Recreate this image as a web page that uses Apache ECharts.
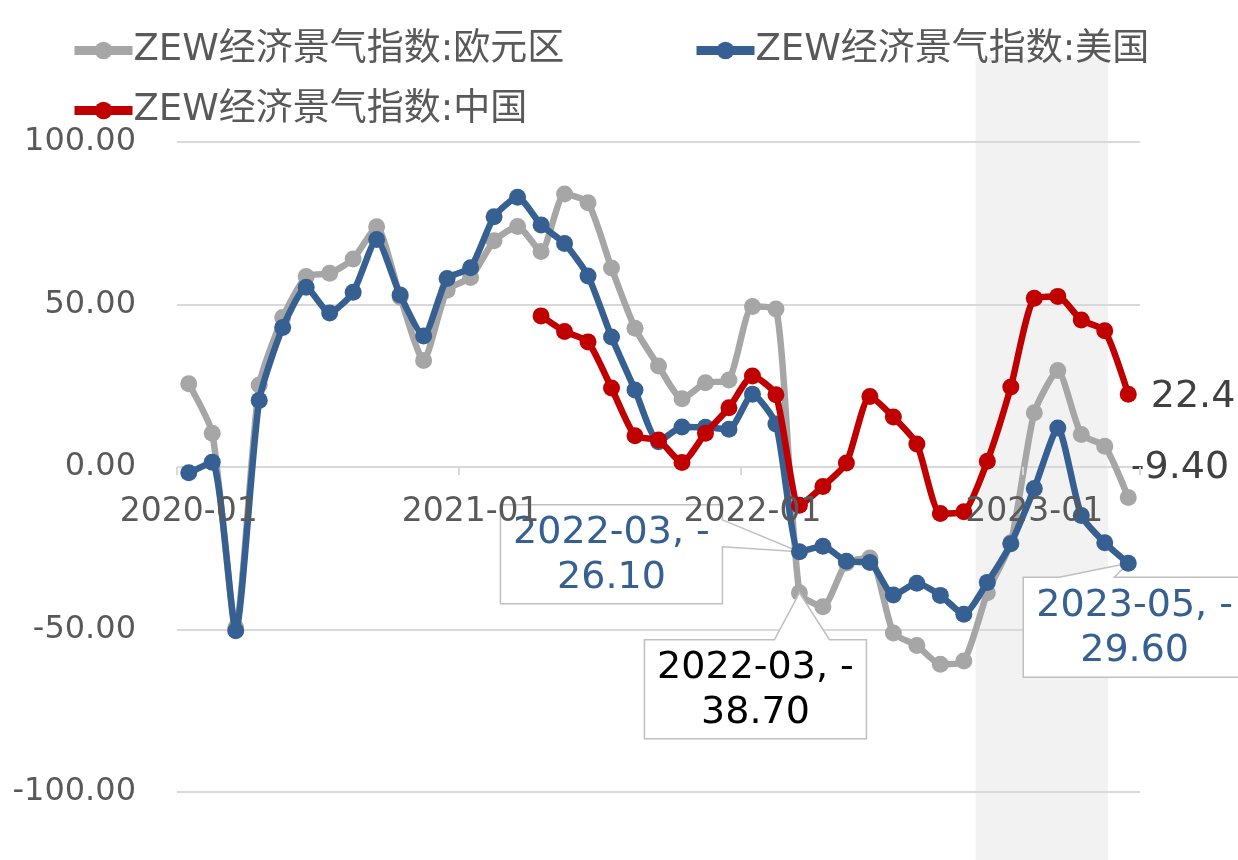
<!DOCTYPE html>
<html><head><meta charset="utf-8">
<script src="https://cdn.jsdelivr.net/npm/echarts@6/dist/echarts.min.js"></script>
<style>html,body{margin:0;padding:0;background:#fff}#c{width:1238px;height:860px}</style>
</head><body><div id="c"></div>
<script>
// ---------- data ----------
const categories = [
  '2020-01','2020-02','2020-03','2020-04','2020-05','2020-06','2020-07','2020-08','2020-09','2020-10','2020-11','2020-12',
  '2021-01','2021-02','2021-03','2021-04','2021-05','2021-06','2021-07','2021-08','2021-09','2021-10','2021-11','2021-12',
  '2022-01','2022-02','2022-03','2022-04','2022-05','2022-06','2022-07','2022-08','2022-09','2022-10','2022-11','2022-12',
  '2023-01','2023-02','2023-03','2023-04','2023-05'
];
const euroName = 'ZEW经济景气指数:欧元区';
const usName = 'ZEW经济景气指数:美国';
const cnName = 'ZEW经济景气指数:中国';
const euroValues = [25.6,10.4,-49.5,25.2,46.0,58.6,59.6,64.0,73.9,52.3,32.8,54.4,
  58.3,69.6,74.0,66.3,84.0,81.3,61.2,42.7,31.1,21.0,25.9,26.8,
  49.4,48.6,-38.7,-43.0,-29.5,-28.0,-51.1,-54.9,-60.7,-59.7,-38.7,-23.3,
  16.7,29.7,10.0,6.4,-9.4];
const usValues = [-1.8,1.5,-50.4,20.5,42.9,55.3,47.4,53.8,70.0,52.9,40.3,58.0,
  61.3,77.0,83.0,74.5,68.8,58.8,40.0,23.7,7.8,12.3,12.2,11.6,
  22.4,13.2,-26.1,-24.4,-29.0,-29.4,-39.4,-35.8,-39.5,-45.3,-35.5,-23.6,
  -6.6,12.0,-14.9,-23.3,-29.6];
const cnValues = [null,null,null,null,null,null,null,null,null,null,null,null,
  null,null,null,46.5,41.7,38.5,24.3,9.6,8.3,1.4,10.4,18.2,
  28.0,22.2,-11.8,-6.0,1.2,21.7,15.4,7.1,-14.3,-13.8,1.8,24.6,
  51.9,52.5,45.2,41.9,22.4];
const yTicks = [-100, -50, 0, 50, 100];
const shadeSpan = ['2022-11', '2023-04'];
// callouts: which point gets a boxed label
const callouts = [
  {series: usName, category: '2022-03'},
  {series: euroName, category: '2022-03'},
  {series: usName, category: '2023-05'}
];

// ---------- styles ----------
const FONT = "'DejaVu Sans', 'Noto Sans CJK SC', sans-serif";
const C_EURO = '#A6A6A6', C_US = '#366092', C_CN = '#C00000';
const TXT = '#595959', GRID = '#D9D9D9';

function buildData(values, endLabel) {
  return values.map((v, i) => {
    if (endLabel && i === values.length - 1) {
      return {value: v, label: Object.assign({show: true}, endLabel)};
    }
    return v;
  });
}
function lineSeries(name, values, color, endLabel, z) {
  return {
    name, type: 'line', data: buildData(values, endLabel), z,
    smooth: 0.2, symbol: 'circle', symbolSize: 17, showAllSymbol: true,
    connectNulls: false,
    lineStyle: {color, width: 6.5}, itemStyle: {color},
    emphasis: {disabled: true}, animation: false
  };
}

const series = [
  lineSeries(euroName, euroValues, C_EURO, {
    position: 'right', distance: 0, offset: [-6, -29],
    formatter: p => p.value.toFixed(2), fontSize: 38, color: '#404040', fontFamily: FONT
  }, 2),
  lineSeries(usName, usValues, C_US, null, 3),
  lineSeries(cnName, cnValues, C_CN, {
    position: 'right', distance: 0, offset: [14, 3],
    formatter: p => String(p.value), fontSize: 38, color: '#404040', fontFamily: FONT
  }, 4)
];

const legendCommon = {
  itemWidth: 58, itemHeight: 22, itemGap: 10, padding: 0,
  lineStyle: {width: 9},
  textStyle: {fontSize: 37, color: TXT, fontFamily: FONT, padding: [0, 0, 0, -4]},
  selectedMode: false
};

const chart = echarts.init(document.getElementById('c'));
chart.setOption({
  animation: false,
  backgroundColor: '#fff',
  textStyle: {fontFamily: FONT},
  legend: [
    Object.assign({data: [euroName], left: 70, top: 32}, legendCommon),
    Object.assign({data: [usName], left: 692, top: 32}, legendCommon),
    Object.assign({data: [cnName], left: 70, top: 92}, legendCommon)
  ],
  grid: {left: 177, right: 98, top: 142, bottom: 68, containLabel: false},
  xAxis: {
    type: 'category', data: categories, boundaryGap: true, z: 6,
    axisLine: {show: true, onZero: true, lineStyle: {color: 'rgba(0,0,0,0)'}},
    axisTick: {show: true, interval: 11, length: 8, lineStyle: {color: GRID, width: 2}},
    axisLabel: {interval: 11, fontSize: 33, color: TXT, margin: 29, fontFamily: FONT},
    splitLine: {show: false}
  },
  yAxis: {
    type: 'value', min: yTicks[0], max: yTicks[yTicks.length - 1], interval: 50,
    axisLine: {show: false}, axisTick: {show: false},
    axisLabel: {fontSize: 32, color: TXT, margin: 41, fontFamily: FONT, formatter: v => v.toFixed(2)},
    splitLine: {lineStyle: {color: GRID, width: 2}}
  },
  series
});

// ---------- decorations positioned through the library's scales ----------
function px(cat, val) { return chart.convertToPixel({xAxisIndex: 0, yAxisIndex: 0}, [cat, val]); }
// place the category axis on the zero line of the value axis
const zeroY = chart.convertToPixel({yAxisIndex: 0}, 0);
const bottomY = chart.convertToPixel({yAxisIndex: 0}, yTicks[0]);
chart.setOption({xAxis: {axisLine: {onZero: false}, offset: -(bottomY - zeroY)}});

const bw = px(categories[1], 0)[0] - px(categories[0], 0)[0];
const s0 = px(shadeSpan[0], 0)[0] - bw / 2;
const s1 = px(shadeSpan[1], 0)[0] + bw * 0.13;

const seriesValues = {}; seriesValues[euroName] = euroValues; seriesValues[usName] = usValues; seriesValues[cnName] = cnValues;
const seriesColor = {}; seriesColor[euroName] = '#000000'; seriesColor[usName] = C_US; seriesColor[cnName] = C_CN;

// callout geometry (offsets from the point, in px) – style only
const calloutGeom = [
  {box: [-299, -47, -77, 52], wedge: {side: 'right', a: -32, b: -5}},
  {box: [-155, 47, 67, 146], wedge: {side: 'top', a: -25, b: 30}},
  {box: [-105, 14, 125, 114], wedge: {side: 'top', a: -69, b: -14}}
];

const graphics = [{
  type: 'rect', z: -10, silent: true,
  shape: {x: s0, y: 58, width: s1 - s0, height: 860 - 58},
  style: {fill: '#F2F2F2'}
}];
callouts.forEach((c, k) => {
  const idx = categories.indexOf(c.category);
  const v = seriesValues[c.series][idx];
  const P = px(c.category, v);
  const g = calloutGeom[k];
  const L = P[0] + g.box[0], T = P[1] + g.box[1], R = P[0] + g.box[2], B = P[1] + g.box[3];
  let pts;
  if (g.wedge.side === 'right') {
    pts = [[L, T], [R, T], [R, P[1] + g.wedge.a], P, [R, P[1] + g.wedge.b], [R, B], [L, B]];
  } else {
    pts = [[L, T], [P[0] + g.wedge.a, T], P, [P[0] + g.wedge.b, T], [R, T], [R, B], [L, B]];
  }
  const label = c.category + ', ' + (v < 0 ? '-' : '') + '\n' + Math.abs(v).toFixed(2);
  graphics.push({
    type: 'polygon', z: 3, silent: true,
    shape: {points: pts},
    style: {fill: '#fff', stroke: '#BFBFBF', lineWidth: 1.5}
  });
  graphics.push({
    type: 'text', z: 4, silent: true,
    x: (L + Math.min(R, 1238)) / 2 + (R > 1238 ? 4 : 0), y: (T + B) / 2 + 1,
    style: {text: label, fill: seriesColor[c.series], font: '38px ' + FONT,
      align: 'center', verticalAlign: 'middle', lineHeight: 45}
  });
});
chart.setOption({graphic: graphics});
</script></body></html>
